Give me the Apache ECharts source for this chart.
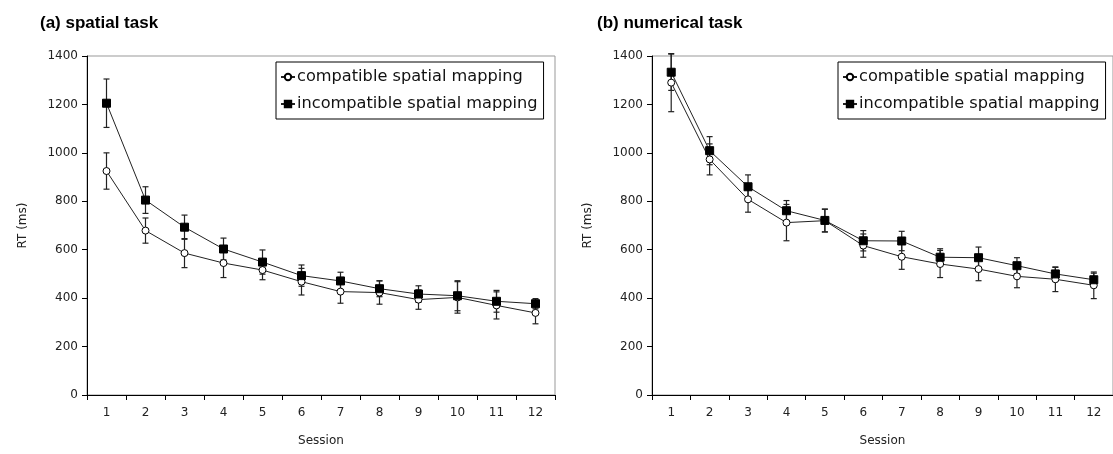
<!DOCTYPE html>
<html>
<head>
<meta charset="utf-8">
<script src="https://cdn.jsdelivr.net/npm/echarts@6/dist/echarts.min.js"></script>
<style>
html,body{margin:0;padding:0;background:#fff;}
#chart{width:1113px;height:454px;}
</style>
</head>
<body>
<div id="chart"></div>
<script>
// ---- data ----
const sessions = ['1','2','3','4','5','6','7','8','9','10','11','12'];
const seriesNames = ['compatible spatial mapping', 'incompatible spatial mapping'];
const panelTitles = ['(a) spatial task', '(b) numerical task'];
const yAxisName = 'RT (ms)';
const xAxisName = 'Session';

// (a) spatial task
const aCompat       = [925, 679, 586, 545, 516, 468, 427, 423, 394, 403, 370, 339];
const aCompatErr    = [75, 52, 60, 60, 40, 55, 48, 48, 40, 65, 56, 45];
const aIncompat     = [1205, 805, 693, 603, 549, 493, 471, 439, 417, 410, 387, 377];
const aIncompatErr  = [100, 55, 50, 45, 50, 44, 36, 33, 34, 62, 45, 21];
// (b) numerical task
const bCompat       = [1290, 973, 808, 712, 720, 617, 571, 541, 520, 490, 478, 453];
const bCompatErr    = [120, 64, 53, 75, 47, 48, 52, 56, 48, 47, 51, 55];
const bIncompat     = [1333, 1009, 860, 761, 721, 637, 636, 569, 567, 534, 500, 476];
const bIncompatErr  = [75, 58, 49, 42, 47, 42, 40, 35, 44, 33, 27, 27];

const yMin = 0, yMax = 1400, yStep = 200;

// ---- chart ----
const FONT = 'DejaVu Sans';
const chart = echarts.init(document.getElementById('chart'));

function errData(vals, errs) {
  return vals.map((v, i) => [i, v - errs[i], v + errs[i]]);
}
function errSeries(vals, errs, gi) {
  return {
    type: 'custom', xAxisIndex: gi, yAxisIndex: gi, z: 1, silent: true,
    data: errData(vals, errs),
    renderItem: function (params, api) {
      const x = api.value(0);
      const lo = api.coord([x, api.value(1)]);
      const hi = api.coord([x, api.value(2)]);
      const w = 3;
      const st = { stroke: '#222', lineWidth: 1.2 };
      return {
        type: 'group',
        children: [
          { type: 'line', shape: { x1: lo[0], y1: lo[1], x2: hi[0], y2: hi[1] }, style: st },
          { type: 'line', shape: { x1: lo[0] - w, y1: lo[1], x2: lo[0] + w, y2: lo[1] }, style: st },
          { type: 'line', shape: { x1: hi[0] - w, y1: hi[1], x2: hi[0] + w, y2: hi[1] }, style: st }
        ]
      };
    }
  };
}
function lineSeries(name, vals, gi, filled) {
  return {
    name: name, type: 'line', xAxisIndex: gi, yAxisIndex: gi, z: 3,
    data: vals,
    symbol: filled ? 'rect' : 'circle',
    symbolSize: filled ? 8 : 7,
    lineStyle: { color: '#222', width: 1 },
    itemStyle: { color: filled ? '#000' : '#fff', borderColor: '#000', borderWidth: 1 },
    emphasis: { disabled: true },
    animation: false
  };
}

const grids = [
  { left: 87, top: 56, width: 468, height: 339 },
  { left: 652, top: 56, width: 467, height: 339 }
];

const option = {
  backgroundColor: '#fff',
  animation: false,
  title: [
    { text: panelTitles[0], left: 35, top: 10, textStyle: { fontFamily: 'Liberation Sans', fontSize: 17, fontWeight: 'bold', color: '#000' } },
    { text: panelTitles[1], left: 592, top: 10, textStyle: { fontFamily: 'Liberation Sans', fontSize: 17, fontWeight: 'bold', color: '#000' } }
  ],
  legend: [0, 1].map(gi => ({
    data: seriesNames,
    orient: 'vertical',
    left: gi === 0 ? 276 : 838,
    top: 62,
    padding: [7, 6, 7, 4],
    itemGap: 11,
    itemWidth: 14,
    itemHeight: 8,
    borderColor: '#000',
    borderWidth: 1,
    backgroundColor: '#fff',
    selectedMode: false,
    textStyle: { fontFamily: FONT, fontSize: 16.2, color: '#111', padding: [0, 0, 0, -3] }
  })),
  grid: grids.map(g => Object.assign({ show: true, borderColor: '#999', borderWidth: 1, backgroundColor: 'transparent' }, g)),
  xAxis: [0, 1].map(gi => ({
    type: 'category', gridIndex: gi, data: sessions, boundaryGap: true,
    name: xAxisName, nameLocation: 'middle', nameGap: 40,
    nameTextStyle: { fontFamily: FONT, fontSize: 12, color: '#222' },
    axisLine: { lineStyle: { color: '#000', width: 1 } },
    axisTick: { show: true, length: 5, lineStyle: { color: '#000' } },
    axisLabel: { fontFamily: FONT, fontSize: 12, color: '#222', margin: 12 },
    splitLine: { show: false }
  })),
  yAxis: [0, 1].map(gi => ({
    type: 'value', gridIndex: gi, min: yMin, max: yMax, interval: yStep,
    name: yAxisName, nameLocation: 'middle', nameGap: 58, nameRotate: 90,
    nameTextStyle: { fontFamily: FONT, fontSize: 12, color: '#222' },
    axisLine: { show: true, lineStyle: { color: '#000', width: 1 } },
    axisTick: { show: true, length: 5, lineStyle: { color: '#000' } },
    axisLabel: { fontFamily: FONT, fontSize: 12, color: '#222', margin: 9, formatter: v => String(v) },
    splitLine: { show: false }
  })),
  series: [
    errSeries(aCompat, aCompatErr, 0),
    errSeries(aIncompat, aIncompatErr, 0),
    errSeries(bCompat, bCompatErr, 1),
    errSeries(bIncompat, bIncompatErr, 1),
    lineSeries(seriesNames[0], aCompat, 0, false),
    lineSeries(seriesNames[1], aIncompat, 0, true),
    lineSeries(seriesNames[0], bCompat, 1, false),
    lineSeries(seriesNames[1], bIncompat, 1, true)
  ]
};
chart.setOption(option);
</script>
</body>
</html>
